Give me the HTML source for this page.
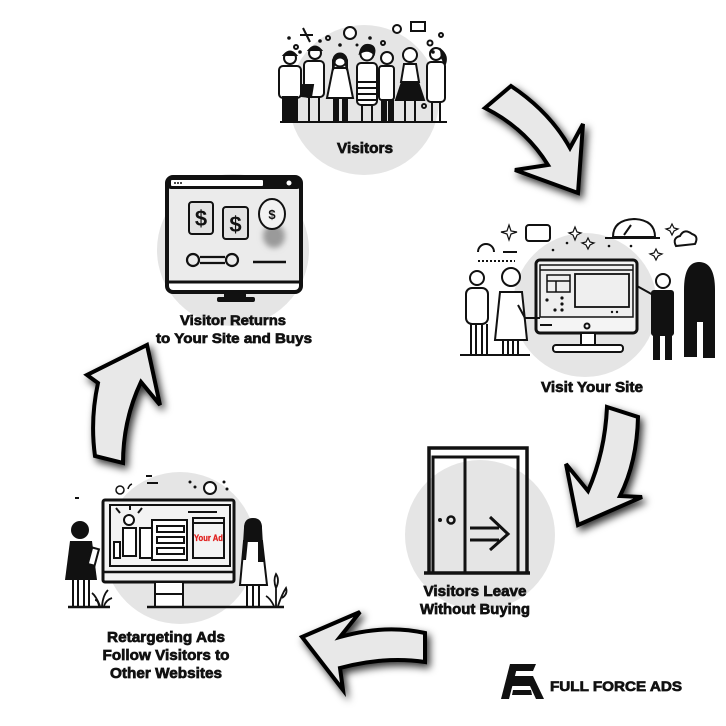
<!DOCTYPE html>
<html><head><meta charset="utf-8"><style>
html,body{margin:0;padding:0;background:#fff;}
svg{display:block;}
text{font-family:"Liberation Sans",Arial,sans-serif;font-weight:bold;fill:#111;}
.lb{stroke:#111;stroke-width:0.7px;paint-order:stroke;}
</style></head><body>
<svg width="726" height="726" viewBox="0 0 726 726" xmlns="http://www.w3.org/2000/svg">
<defs>
<filter id="sh" x="-40%" y="-40%" width="180%" height="180%">
<feDropShadow dx="3" dy="4" stdDeviation="4" flood-color="#000" flood-opacity="0.8"/>
</filter>
<filter id="bl" x="-50%" y="-50%" width="200%" height="200%"><feGaussianBlur stdDeviation="3"/></filter>
</defs>
<rect width="726" height="726" fill="#fff"/>
<g fill="#e5e5e5">
<circle cx="364" cy="100" r="75"/>
<circle cx="233" cy="250" r="76"/>
<circle cx="585" cy="305" r="72"/>
<circle cx="480" cy="535" r="75"/>
<circle cx="180" cy="548" r="76"/>
</g>

<!-- arrows -->
<g fill="#e8e8e8" stroke="#000" stroke-width="4" stroke-linejoin="miter" filter="url(#sh)">
<path d="M485,108 L511,86 Q550,112 570,148 L583,124 L578,193 L515,170 L548,165 Q525,128 485,108Z"/>
<path d="M607,407 L638,417 Q637,462 620,496 L642,497 L578,525 L566,464 L588,491 Q605,452 607,407Z"/>
<path d="M425,633 Q385,624 340,637 L360,612 L302,637 L343,690 L340,668 Q385,656 425,662Z"/>
<path d="M95,456 Q90,420 98,383 L87,375 L147,345 L160,405 L141,382 Q123,420 123,463Z"/>
</g>

<!-- Visitors illustration -->
<g stroke="#111" stroke-width="2" fill="#fff">
<line x1="280" y1="122" x2="447" y2="122"/>
<rect x="279" y="66" width="22" height="32" rx="4"/>
<rect x="283" y="97" width="14" height="25" fill="#111"/>
<circle cx="290" cy="58" r="6"/>
<path d="M284,55 Q290,48 296,55Z" fill="#111"/>
<rect x="304" y="61" width="20" height="36" rx="4"/>
<path d="M303,85 L313,85 L311,97 L301,96Z" fill="#111"/>
<line x1="309" y1="97" x2="309" y2="122"/><line x1="319" y1="97" x2="319" y2="122"/>
<circle cx="315" cy="53" r="6"/>
<path d="M309,50 Q315,43 321,50Z" fill="#111"/>
<path d="M333,68 L347,68 L353,98 L327,98Z"/>
<rect x="334" y="98" width="4" height="24" fill="#111"/><rect x="343" y="98" width="4" height="24" fill="#111"/>
<circle cx="340" cy="60" r="6.5"/>
<path d="M333,60 Q340,48 347,60 L347,70 L345,60 Q340,55 335,60 L333,70Z" fill="#111"/>
<rect x="357" y="63" width="20" height="42" rx="4"/>
<line x1="358" y1="82" x2="376" y2="82"/><line x1="358" y1="88" x2="376" y2="88"/><line x1="358" y1="94" x2="376" y2="94"/><line x1="358" y1="100" x2="376" y2="100"/>
<line x1="362" y1="105" x2="362" y2="122"/><line x1="372" y1="105" x2="372" y2="122"/>
<circle cx="367" cy="54" r="6.5"/>
<path d="M360,53 Q362,44 369,45 Q376,46 374,54 Q368,48 360,53Z" fill="#111"/>
<rect x="379" y="66" width="15" height="34" rx="3"/>
<rect x="382" y="100" width="4" height="22" fill="#111"/><rect x="389" y="100" width="4" height="22" fill="#111"/>
<circle cx="387" cy="58" r="6"/>
<path d="M404,64 L416,64 L419,82 L401,82Z"/>
<path d="M402,82 L418,82 L424,100 L396,100Z" fill="#111"/>
<line x1="405" y1="100" x2="405" y2="122"/><line x1="415" y1="100" x2="415" y2="122"/>
<circle cx="410" cy="55" r="7"/>
<rect x="427" y="62" width="18" height="40" rx="4"/>
<line x1="432" y1="102" x2="432" y2="122"/><line x1="440" y1="102" x2="440" y2="122"/>
<circle cx="436" cy="54" r="6"/>
<path d="M441,50 Q448,56 445,64 L442,58Z" fill="#111"/>
<circle cx="350" cy="33" r="6"/>
<circle cx="397" cy="29" r="4"/>
<rect x="411" y="22" width="14" height="9"/>
<circle cx="296" cy="47" r="2"/>
<circle cx="328" cy="38" r="2"/>
<circle cx="383" cy="43" r="2"/>
<circle cx="430" cy="43" r="2.5"/>
<circle cx="441" cy="35" r="2"/>
<circle cx="424" cy="106" r="2"/>
<line x1="303" y1="28" x2="310" y2="42"/><line x1="300" y1="35" x2="313" y2="35"/>
</g>
<g fill="#111">
<circle cx="289" cy="38" r="1.8"/><circle cx="320" cy="41" r="1.8"/><circle cx="340" cy="45" r="1.8"/>
<circle cx="370" cy="38" r="1.8"/><circle cx="300" cy="52" r="1.8"/><circle cx="433" cy="52" r="1.8"/>
<circle cx="357" cy="45" r="1.5"/>
</g>

<!-- Visitor Returns monitor -->
<g>
<rect x="167" y="177" width="134" height="115" rx="6" fill="#fff" stroke="#111" stroke-width="4"/>
<rect x="169" y="189" width="130" height="92" fill="#ebebeb"/>
<rect x="167" y="177" width="134" height="12" rx="4" fill="#111"/>
<rect x="171" y="180" width="92" height="6" rx="1" fill="#fff"/>
<circle cx="175" cy="183" r="1" fill="#111"/><circle cx="178" cy="183" r="1" fill="#111"/><circle cx="181" cy="183" r="1" fill="#111"/>
<circle cx="289" cy="183" r="2.5" fill="#fff"/>
<line x1="167" y1="282" x2="301" y2="282" stroke="#111" stroke-width="3"/>
<rect x="224" y="292" width="22" height="7" fill="#111"/>
<rect x="217" y="297" width="38" height="5" rx="2" fill="#111"/>
<rect x="189" y="202" width="24" height="32" rx="3" fill="#e2e2e2" stroke="#111" stroke-width="2"/>
<rect x="223" y="207" width="25" height="32" rx="3" fill="#e2e2e2" stroke="#111" stroke-width="2"/>
<text x="201" y="226" text-anchor="middle" font-size="22">$</text>
<text x="235.5" y="232" text-anchor="middle" font-size="22">$</text>
<ellipse cx="274" cy="236" rx="11" ry="12" fill="#9a9a9a" filter="url(#bl)"/>
<ellipse cx="272" cy="214" rx="13" ry="15" fill="#f2f2f2" stroke="#111" stroke-width="2"/>
<text x="272" y="219" text-anchor="middle" font-size="13">$</text>
<g stroke="#111" stroke-width="2.2" fill="none">
<circle cx="193" cy="260" r="6"/><circle cx="232" cy="260" r="6"/>
<line x1="200" y1="257" x2="225" y2="257"/><line x1="200" y1="263" x2="225" y2="263"/>
<line x1="253" y1="262" x2="286" y2="262" stroke-width="2.6"/>
</g>
</g>

<!-- Visit Your Site illustration -->
<g stroke="#111" stroke-width="2" fill="#fff">
<rect x="536" y="260" width="101" height="73" rx="4" fill="#f4f4f4" stroke-width="3"/>
<rect x="540" y="265" width="93" height="52" fill="#efefef" stroke-width="1.5"/>
<line x1="540" y1="270" x2="633" y2="270" stroke-width="1.5"/>
<rect x="547" y="275" width="23" height="17" fill="none" stroke-width="1.5"/>
<line x1="547" y1="281" x2="570" y2="281" stroke-width="1.5"/><line x1="556" y1="281" x2="556" y2="292" stroke-width="1.5"/>
<rect x="575" y="274" width="54" height="33" fill="none" stroke-width="1.8"/>
<line x1="540" y1="325" x2="552" y2="325"/>
<circle cx="587" cy="326" r="2.5" fill="none"/>
<rect x="581" y="333" width="14" height="12"/>
<rect x="553" y="345" width="70" height="7" rx="3"/>
<line x1="460" y1="355" x2="530" y2="355"/>
<rect x="466" y="288" width="22" height="36" rx="6"/>
<line x1="471" y1="324" x2="471" y2="354"/><line x1="476" y1="324" x2="476" y2="354"/><line x1="482" y1="324" x2="482" y2="354"/><line x1="487" y1="324" x2="487" y2="354"/>
<circle cx="477" cy="278" r="7"/>
<path d="M500,292 L522,292 L527,340 L495,340Z"/>
<path d="M518,305 L525,318 L540,318" fill="none"/>
<line x1="503" y1="340" x2="503" y2="355"/><line x1="508" y1="340" x2="508" y2="355"/><line x1="513" y1="340" x2="513" y2="355"/><line x1="518" y1="340" x2="518" y2="355"/>
<circle cx="511" cy="277" r="9"/>
<circle cx="663" cy="281" r="7"/>
<line x1="655" y1="296" x2="637" y2="286"/>
</g>
<g fill="#111">
<rect x="651" y="290" width="23" height="46" rx="3"/>
<rect x="653" y="334" width="7" height="26"/><rect x="665" y="334" width="7" height="26"/>
<path d="M684,357 L684,290 Q684,262 699,262 Q715,262 715,290 L715,358 L703,358 L703,322 L697,322 L697,357Z"/>
<circle cx="540" cy="236" r="1.6"/><circle cx="546" cy="236" r="1.6"/>
<circle cx="547" cy="300" r="1.6"/><circle cx="555" cy="310" r="1.6"/><circle cx="562" cy="310" r="1.6"/><circle cx="562" cy="298" r="1.6"/><circle cx="562" cy="304" r="1.6"/>
<circle cx="612" cy="312" r="1.2"/><circle cx="617" cy="312" r="1.2"/>
<circle cx="553" cy="250" r="1.3"/><circle cx="567" cy="243" r="1.3"/><circle cx="609" cy="246" r="1.3"/><circle cx="631" cy="246" r="1.3"/>
</g>
<g stroke="#111" stroke-width="2" fill="#fff">
<rect x="526" y="225" width="24" height="16" rx="3"/>
<path d="M478,252 A8,8 0 0 1 494,252" fill="none"/>
<line x1="503" y1="252" x2="517" y2="252"/>
<line x1="478" y1="261" x2="515" y2="261" stroke-dasharray="2,2"/>
<path d="M613,237 Q613,220 634,219 Q655,220 655,237Z"/>
<line x1="605" y1="238" x2="660" y2="238"/>
<line x1="624" y1="235" x2="631" y2="225"/>
<path d="M676,246 Q672,238 680,236 Q684,228 692,234 Q699,236 695,244Z"/>
<path d="M509,225 L511,231 L517,232 L511,234 L509,240 L507,234 L501,232 L507,231Z" stroke-width="1.2"/>
<path d="M575,227 L577,232 L581,233 L577,235 L575,240 L573,235 L569,233 L573,232Z" stroke-width="1.2"/>
<path d="M588,238 L590,242 L594,243 L590,245 L588,249 L586,245 L582,243 L586,242Z" stroke-width="1.2"/>
<path d="M656,249 L658,253 L662,254 L658,256 L656,260 L654,256 L650,254 L654,253Z" stroke-width="1.2"/>
<path d="M672,224 L674,228 L678,229 L674,231 L672,235 L670,231 L666,229 L670,228Z" stroke-width="1.2"/>
</g>

<!-- Door -->
<g stroke="#111" fill="none">
<path d="M429,573 L429,448 L527,448 L527,573" stroke-width="3.5"/>
<path d="M433,573 L433,457 L518,457 L518,573" stroke-width="3"/>
<line x1="465" y1="457" x2="465" y2="573" stroke-width="3"/>
<line x1="424" y1="573" x2="530" y2="573" stroke-width="3.5"/>
<circle cx="451" cy="520" r="3.5" stroke-width="2.5"/>
<line x1="470" y1="528" x2="499" y2="528" stroke-width="3"/>
<line x1="470" y1="540" x2="499" y2="540" stroke-width="3"/>
<path d="M490,517 L508,534 L490,550" stroke-width="3"/>
</g>
<circle cx="440" cy="520" r="2" fill="#111"/>

<!-- Retargeting illustration -->
<g stroke="#111" stroke-width="2" fill="#fff">
<rect x="103" y="500" width="131" height="82" rx="2" fill="#f3f3f3" stroke-width="3"/>
<rect x="110" y="505" width="120" height="61" fill="#f3f3f3"/>
<line x1="103" y1="572" x2="234" y2="572" stroke-width="2.5"/>
<rect x="155" y="582" width="28" height="25"/>
<line x1="155" y1="594" x2="183" y2="594"/>
<line x1="147" y1="607" x2="284" y2="607" stroke-width="2.5"/>
<line x1="68" y1="607" x2="110" y2="607" stroke-width="2.5"/>
<circle cx="129" cy="520" r="5"/>
<rect x="123" y="528" width="13" height="28"/>
<rect x="114" y="542" width="6" height="16"/>
<rect x="140" y="528" width="12" height="30"/>
<line x1="120" y1="513" x2="116" y2="508"/><line x1="138" y1="513" x2="142" y2="508"/><line x1="130" y1="510" x2="130" y2="506"/>
<rect x="152" y="520" width="35" height="40"/>
<rect x="157" y="526" width="27" height="6"/><rect x="157" y="537" width="27" height="6"/><rect x="157" y="548" width="27" height="6"/>
<line x1="188" y1="512" x2="217" y2="512"/>
<rect x="193" y="518" width="31" height="40" fill="#f3f3f3"/>
<line x1="193" y1="523" x2="224" y2="523"/>
<path d="M244,541 L262,541 L267,585 L240,585Z"/>
<line x1="247" y1="585" x2="247" y2="607"/><line x1="253" y1="585" x2="253" y2="607"/><line x1="259" y1="585" x2="259" y2="607"/>
<line x1="73" y1="580" x2="73" y2="607"/><line x1="78" y1="580" x2="78" y2="607"/><line x1="84" y1="580" x2="84" y2="607"/><line x1="89" y1="580" x2="89" y2="607"/>
<circle cx="120" cy="490" r="4" stroke-width="1.5"/>
<circle cx="210" cy="488" r="6"/>
<line x1="146" y1="476" x2="152" y2="476"/><line x1="147" y1="483" x2="158" y2="483"/>
<line x1="75" y1="498" x2="79" y2="498"/>
<path d="M128,489 Q129,485 132,484" fill="none" stroke-width="1.5"/>
</g>
<g fill="#111">
<circle cx="80" cy="530" r="9"/>
<path d="M70,541 L92,541 L97,580 L65,580Z"/>
<circle cx="253" cy="528" r="9"/>
<path d="M244,528 Q244,518 253,518 Q262,518 262,528 L264,562 L258,562 L258,540 L248,540 L246,560 L242,560Z"/>
<circle cx="190" cy="482" r="1.5"/><circle cx="195" cy="487" r="1.5"/><circle cx="224" cy="482" r="1.5"/><circle cx="227" cy="489" r="1.5"/>
</g>
<rect x="90" y="548" width="7" height="17" fill="#fff" stroke="#111" stroke-width="2" transform="rotate(15 93 556)"/>
<g stroke="#111" stroke-width="1.8" fill="none">
<path d="M100,606 Q96,596 92,593"/><path d="M102,606 Q103,595 108,590"/><path d="M104,606 Q106,600 112,598"/><path d="M99,606 Q98,600 95,600"/>
<path d="M276,606 L276,588 Q273,580 276,574 Q280,580 276,588"/><path d="M278,606 Q282,594 286,588 Q288,594 282,598"/><path d="M274,606 Q270,598 266,596"/>
</g>
<text x="208.5" y="541" text-anchor="middle" font-size="9" textLength="29" lengthAdjust="spacingAndGlyphs" style="fill:#e0201e;stroke:#e0201e;stroke-width:0.3px">Your Ad</text>

<!-- Labels -->
<text class="lb" x="365" y="153" text-anchor="middle" font-size="15" textLength="56" lengthAdjust="spacingAndGlyphs">Visitors</text>
<text class="lb" x="233" y="325" text-anchor="middle" font-size="14" textLength="106" lengthAdjust="spacingAndGlyphs">Visitor Returns</text>
<text class="lb" x="234" y="343" text-anchor="middle" font-size="14" textLength="156" lengthAdjust="spacingAndGlyphs">to Your Site and Buys</text>
<text class="lb" x="592" y="392" text-anchor="middle" font-size="15" textLength="102" lengthAdjust="spacingAndGlyphs">Visit Your Site</text>
<text class="lb" x="475" y="596" text-anchor="middle" font-size="15" textLength="103" lengthAdjust="spacingAndGlyphs">Visitors Leave</text>
<text class="lb" x="475" y="614" text-anchor="middle" font-size="15" textLength="110" lengthAdjust="spacingAndGlyphs">Without Buying</text>
<text class="lb" x="166" y="642" text-anchor="middle" font-size="15" textLength="118" lengthAdjust="spacingAndGlyphs">Retargeting Ads</text>
<text class="lb" x="166" y="660" text-anchor="middle" font-size="15" textLength="127" lengthAdjust="spacingAndGlyphs">Follow Visitors to</text>
<text class="lb" x="166" y="678" text-anchor="middle" font-size="15" textLength="112" lengthAdjust="spacingAndGlyphs">Other Websites</text>

<!-- Logo -->
<g fill="#111">
<path d="M511,664 L536,664 L533,671 L509,671Z"/>
<path d="M510,664 L518,664 L509,699 L501,699Z"/>
<path d="M514,676 L533,676 L544,699 L536,699 L530,686 L512,686Z"/>
<path d="M513,690 L531,690 L532,695 L512,695Z"/>
</g>
<text class="lb" x="550" y="691" font-size="14" textLength="132" lengthAdjust="spacingAndGlyphs">FULL FORCE ADS</text>
</svg>
</body></html>
